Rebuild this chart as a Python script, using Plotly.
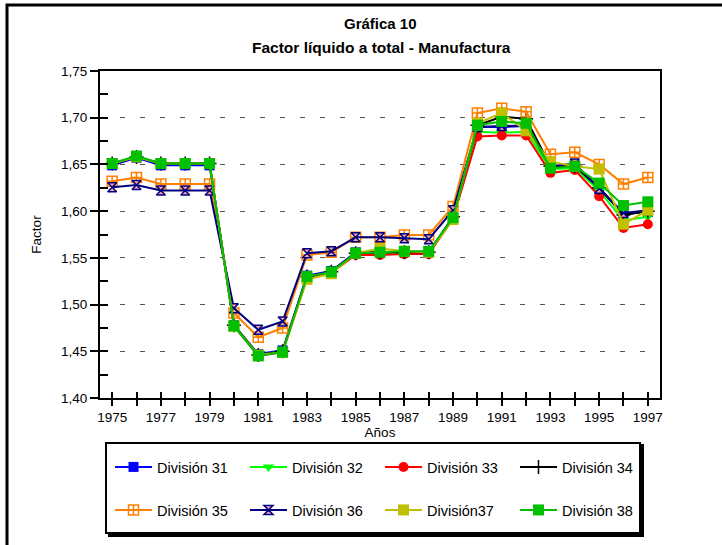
import plotly.graph_objects as go

years = list(range(1975, 1998))

div31 = [1.649, 1.657, 1.649, 1.649, 1.649, 1.478, 1.447, 1.451, 1.531, 1.536, 1.556, 1.556, 1.556, 1.556,
         1.593, 1.690, 1.690, 1.691, 1.647, 1.649, 1.625, 1.597, 1.599]
div32 = [1.651, 1.659, 1.651, 1.651, 1.651, 1.478, 1.446, 1.450, 1.529, 1.534, 1.554, 1.555, 1.555, 1.555,
         1.592, 1.685, 1.684, 1.685, 1.645, 1.646, 1.622, 1.590, 1.594]
div33 = [1.651, 1.658, 1.651, 1.651, 1.651, 1.477, 1.445, 1.449, 1.528, 1.534, 1.553, 1.553, 1.554, 1.554,
         1.592, 1.680, 1.681, 1.681, 1.641, 1.644, 1.616, 1.582, 1.586]
div34 = [1.651, 1.658, 1.651, 1.651, 1.651, 1.478, 1.446, 1.450, 1.530, 1.535, 1.555, 1.556, 1.556, 1.556,
         1.594, 1.692, 1.701, 1.699, 1.648, 1.648, 1.625, 1.596, 1.600]
div35 = [1.632, 1.636, 1.629, 1.629, 1.629, 1.491, 1.465, 1.475, 1.553, 1.556, 1.572, 1.572, 1.5745, 1.5745,
         1.605, 1.705, 1.710, 1.7065, 1.661, 1.663, 1.650, 1.629, 1.636]
div36 = [1.6255, 1.628, 1.622, 1.622, 1.622, 1.496, 1.473, 1.482, 1.555, 1.557, 1.572, 1.572, 1.571, 1.570,
         1.601, 1.690, 1.691, 1.692, 1.648, 1.651, 1.624, 1.598, 1.601]
div37 = [1.651, 1.658, 1.651, 1.651, 1.651, 1.477, 1.446, 1.449, 1.527, 1.533, 1.555, 1.560, 1.557, 1.556,
         1.591, 1.694, 1.705, 1.686, 1.653, 1.648, 1.645, 1.586, 1.601]
div38 = [1.651, 1.659, 1.651, 1.651, 1.651, 1.477, 1.445, 1.449, 1.530, 1.535, 1.555, 1.556, 1.557, 1.557,
         1.593, 1.692, 1.696, 1.694, 1.646, 1.648, 1.630, 1.606, 1.610]

names = ["División 31", "División 32", "División 33", "División 34",
         "División 35", "División 36", "División37", "División 38"]
series = [div31, div32, div33, div34, div35, div36, div37, div38]
colors = ["#0000FF", "#00FF00", "#FF0000", "#000000", "#FF8000", "#000080", "#C0C000", "#00C000"]
symbols = ["square", "triangle-down", "circle", "cross-thin", "square-cross-open", "hourglass", "square", "square"]
fills = ["#0000FF", "#00FF00", "#FF0000", "#000000", "#FF8000", "#F4A0A0", "#C0C000", "#00C000"]
sizes = [10, 10, 10, 10, 10, 9, 11, 11]

title1 = "Gráfica 10"
title2 = "Factor líquido a total - Manufactura"

FONT = "Liberation Sans, Arial, sans-serif"

fig = go.Figure()
for i, (nm, ys) in enumerate(zip(names, series)):
    mk = dict(symbol=symbols[i], size=sizes[i], color=fills[i])
    if symbols[i] == "hourglass":
        mk["line"] = dict(color=colors[i], width=1.5)
    elif symbols[i] in ("cross-thin", "square-cross-open"):
        mk["line"] = dict(color=colors[i], width=1.5)
        mk["color"] = colors[i]
    else:
        mk["line"] = dict(width=0)
    fig.add_trace(go.Scatter(
        x=years, y=ys, name=nm, mode="lines+markers",
        line=dict(color=colors[i], width=2),
        marker=mk,
        legend="legend" if i < 4 else "legend2",
    ))

# overlay axes for inside tick halves
fig.add_trace(go.Scatter(x=[], y=[], xaxis="x2", yaxis="y2", showlegend=False))

L, R, T, B = 100, 660, 71, 398
W, H = 722, 545
pw, ph = R - L, B - T


def px(x):
    return (x - L) / pw


def py(y):
    return (B - y) / ph


leg_common = dict(
    orientation="h", x=px(110), xanchor="left", yanchor="middle",
    entrywidth=83, entrywidthmode="pixels", bgcolor="rgba(0,0,0,0)",
    font=dict(size=14.5), itemwidth=37, traceorder="normal",
)

fig.update_layout(
    width=W, height=H,
    margin=dict(l=L, r=W - R, t=T, b=H - B),
    paper_bgcolor="white", plot_bgcolor="white",
    font=dict(family=FONT, size=13, color="black"),
    separators=", ",
    showlegend=True,
    annotations=[
        dict(text="<b>" + title1 + "</b>", xref="paper", yref="paper", x=px(380), y=py(23),
             xanchor="center", yanchor="middle", showarrow=False, font=dict(size=15)),
        dict(text="<b>" + title2 + "</b>", xref="paper", yref="paper", x=px(381), y=py(48),
             xanchor="center", yanchor="middle", showarrow=False, font=dict(size=15.5)),
    ],
    xaxis=dict(
        range=[1974.5, 1997.5], tickvals=years,
        ticktext=[str(y) if y % 2 == 1 else "" for y in years],
        ticks="outside", ticklen=6, tickwidth=2, tickcolor="black",
        showline=True, linecolor="black", linewidth=2, mirror=True,
        showgrid=False, zeroline=False,
        title=dict(text="Años", standoff=2, font=dict(size=13.5)),
        tickfont=dict(size=13.5),
    ),
    yaxis=dict(
        range=[1.40, 1.75], dtick=0.05, tick0=1.40, tickformat=".2f",
        ticks="outside", ticklen=8, tickwidth=2, tickcolor="black",
        showline=True, linecolor="black", linewidth=2, mirror=True,
        showgrid=True, gridcolor="#555555", gridwidth=1, griddash="5px,15px",
        zeroline=False,
        title=dict(text="Factor", standoff=16, font=dict(size=13.5)),
        tickfont=dict(size=13.5),
    ),
    xaxis2=dict(
        overlaying="x", anchor="y2", range=[1974.5, 1997.5], tickvals=years,
        ticks="inside", ticklen=6, tickwidth=2, tickcolor="black",
        showticklabels=False, showgrid=False, zeroline=False, showline=False,
    ),
    yaxis2=dict(
        overlaying="y", anchor="x2", side="left", range=[1.40, 1.75], dtick=0.025, tick0=1.40,
        ticks="inside", ticklen=8, tickwidth=2, tickcolor="black",
        showticklabels=False, showgrid=False, zeroline=False, showline=False,
    ),
    legend=dict(y=py(467), **leg_common),
    legend2=dict(y=py(510), **leg_common),
    shapes=[
        # outer frame
        dict(type="rect", xref="paper", yref="paper", x0=px(7), x1=px(730), y0=py(560), y1=py(5),
             line=dict(color="black", width=3), fillcolor="rgba(0,0,0,0)", layer="below"),
        # legend shadow
        dict(type="rect", xref="paper", yref="paper", x0=px(109), x1=px(643), y0=py(536), y1=py(445),
             line=dict(color="black", width=2), fillcolor="black", layer="above"),
        # legend box
        dict(type="rect", xref="paper", yref="paper", x0=px(106), x1=px(640), y0=py(533), y1=py(443),
             line=dict(color="black", width=2), fillcolor="white", layer="above"),
    ],
)

fig.write_html("out.html", config={"displayModeBar": False},
               post_script="document.body.style.margin='0';")
